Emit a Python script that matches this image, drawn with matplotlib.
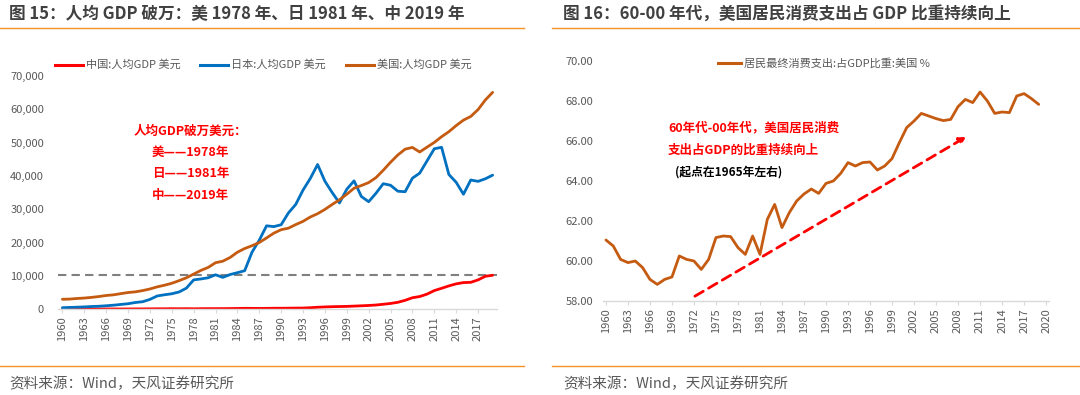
import matplotlib
matplotlib.use("Agg")
import matplotlib.pyplot as plt
from matplotlib.lines import Line2D
from matplotlib.ticker import FuncFormatter

plt.rcParams['font.family'] = ['Noto Sans CJK SC', 'DejaVu Sans']

# 图15 数据：人均GDP（美元）
years_gdp = list(range(1960, 2020))
china_gdp = [90, 76, 70, 74, 85, 98, 104, 97, 91, 100,
             113, 119, 132, 157, 160, 178, 165, 185, 156, 184,
             195, 197, 203, 225, 251, 294, 282, 252, 284, 311,
             318, 333, 366, 377, 473, 610, 709, 782, 829, 873,
             959, 1053, 1149, 1289, 1509, 1753, 2099, 2694, 3468, 3832,
             4550, 5614, 6301, 7020, 7636, 8016, 8094, 8817, 9905, 10217]
japan_gdp = [479, 563, 633, 717, 835, 919, 1058, 1229, 1451, 1669,
             2037, 2272, 2967, 3997, 4354, 4659, 5198, 6335, 8821, 9105,
             9463, 10361, 9578, 10425, 10984, 11585, 17112, 20745, 25051, 24813,
             25371, 28925, 31465, 35766, 39269, 43440, 38437, 35022, 31903, 36027,
             38532, 33846, 32289, 34808, 37688, 37218, 35434, 35275, 39339, 40855,
             44508, 48168, 48603, 40454, 38109, 34524, 38794, 38387, 39159, 40247]
us_gdp = [3007, 3067, 3244, 3375, 3574, 3828, 4146, 4336, 4696, 5032,
          5234, 5609, 6094, 6726, 7226, 7801, 8592, 9453, 10565, 11674,
          12575, 13976, 14434, 15544, 17121, 18237, 19071, 20039, 21417, 22857,
          23889, 24342, 25419, 26387, 27695, 28691, 29968, 31459, 32854, 34515,
          36335, 37133, 38023, 39497, 41712, 44115, 46299, 48050, 48570, 47195,
          48651, 50066, 51784, 53291, 55124, 56763, 57867, 59915, 62805, 65095]
threshold = 10300

# 图16 数据：居民最终消费支出占GDP比重（美国，%）
years_pce = list(range(1960, 2020))
pce_share = [61.05, 60.75, 60.08, 59.92, 60.0, 59.67, 59.08, 58.83, 59.08, 59.2,
             60.25, 60.08, 60.0, 59.58, 60.08, 61.17, 61.25, 61.22, 60.67, 60.33,
             61.25, 60.33, 62.08, 62.83, 61.67, 62.42, 63.0, 63.35, 63.6, 63.38,
             63.88, 64.0, 64.38, 64.92, 64.75, 64.92, 64.95, 64.55, 64.75, 65.12,
             65.92, 66.67, 67.0, 67.38, 67.25, 67.12, 67.02, 67.08, 67.72, 68.08,
             67.92, 68.45, 68.0, 67.38, 67.45, 67.42, 68.25, 68.37, 68.12, 67.83]

W, H = 1080, 395
fig = plt.figure(figsize=(W / 100, H / 100), dpi=100)

def fx(px):
    return px / W

def fy(py):
    return 1 - py / H

title_color = '#404040'
rule_color = '#F39323'
tick_color = '#595959'
axis_color = '#d9d9d9'

def style_axis(ax):
    for s in ['top', 'right', 'left']:
        ax.spines[s].set_visible(False)
    ax.spines['bottom'].set_color(axis_color)
    ax.spines['bottom'].set_linewidth(1)
    ax.tick_params(axis='x', direction='out', length=3, color=axis_color,
                   labelsize=8, labelcolor=tick_color, rotation=90, pad=2)
    ax.tick_params(axis='y', length=0, labelsize=8, labelcolor=tick_color)

line_kw = dict(lw=2, solid_joinstyle='round', solid_capstyle='round')

# ---------- 左图 ----------
ax1 = fig.add_axes([fx(58), fy(309.3), fx(497) - fx(58), fy(76) - fy(309.3)])
ax1.plot(years_gdp, china_gdp, color='#FF0000', **line_kw)
ax1.plot(years_gdp, japan_gdp, color='#0070C0', **line_kw)
ax1.plot(years_gdp, us_gdp, color='#C55A11', **line_kw)
ax1.axhline(threshold, color='#808080', lw=1.5, ls=(0, (4, 2.5)), zorder=0)
ax1.set_xlim(1959.4, 2019.6)
ax1.set_ylim(0, 70000)
ax1.set_xticks(range(1960, 2019, 3))
ax1.set_yticks(range(0, 70001, 10000))
ax1.yaxis.set_major_formatter(FuncFormatter(lambda v, p: f"{int(v):,}"))
style_axis(ax1)
ax1.tick_params(axis='y', pad=10)

red_bold = dict(color='#FF0000', fontsize=9, fontweight='bold', va='center')
ax1.text(fx(190), fy(131.7), "人均GDP破万美元：", ha='center', transform=fig.transFigure, **red_bold)
ax1.text(fx(152), fy(152.3), "美——1978年", ha='left', transform=fig.transFigure, **red_bold)
ax1.text(fx(152), fy(173.3), "日——1981年", ha='left', transform=fig.transFigure, **red_bold)
ax1.text(fx(152), fy(195), "中——2019年", ha='left', transform=fig.transFigure, **red_bold)

# 左图图例
legend_items = [("中国:人均GDP 美元", '#FF0000', 55),
                ("日本:人均GDP 美元", '#0070C0', 200),
                ("美国:人均GDP 美元", '#C55A11', 346)]
for label, color, x0 in legend_items:
    fig.add_artist(Line2D([fx(x0), fx(x0 + 28)], [fy(64.5), fy(64.5)], color=color, lw=2.2))
    fig.text(fx(x0 + 31), fy(64.5), label, fontsize=8, color=tick_color, va='center', ha='left')

# ---------- 右图 ----------
ax2 = fig.add_axes([fx(603), fy(301), fx(1049) - fx(603), fy(61) - fy(301)])
ax2.plot(years_pce, pce_share, color='#C55A11', **line_kw)
ax2.set_xlim(1959.6, 2020.4)
ax2.set_ylim(58, 70)
ax2.set_xticks(range(1960, 2021, 3))
ax2.set_yticks(range(58, 71, 2))
ax2.yaxis.set_major_formatter(FuncFormatter(lambda v, p: f"{v:.2f}"))
style_axis(ax2)
ax2.tick_params(axis='y', pad=7)

ax2.annotate("", xy=(2009.45, 66.28), xytext=(1971.8, 58.17),
             arrowprops=dict(arrowstyle='-|>', color='#FF0000', lw=2,
                             linestyle=(0, (3.5, 2.2)), mutation_scale=10))
fig.text(fx(668), fy(127.7), "60年代-00年代，美国居民消费", color='#FF0000',
         fontsize=9, fontweight='bold', va='center', ha='left')
fig.text(fx(668), fy(150), "支出占GDP的比重持续向上", color='#FF0000',
         fontsize=9, fontweight='bold', va='center', ha='left')
fig.text(fx(675), fy(172.3), "(起点在1965年左右)", color='black',
         fontsize=8.5, fontweight='bold', va='center', ha='left')

fig.add_artist(Line2D([fx(718), fx(741)], [fy(63), fy(63)], color='#C55A11', lw=2.2))
fig.text(fx(744), fy(63), "居民最终消费支出:占GDP比重:美国 %", fontsize=8,
         color=tick_color, va='center', ha='left')

# ---------- 标题、分隔线、来源 ----------
fig.text(fx(9), fy(14), "图 15：人均 GDP 破万：美 1978 年、日 1981 年、中 2019 年",
         fontsize=12, fontweight='bold', color=title_color, va='center', ha='left')
fig.text(fx(563), fy(14), "图 16：60-00 年代，美国居民消费支出占 GDP 比重持续向上",
         fontsize=12, fontweight='bold', color=title_color, va='center', ha='left')
for xa, xb in [(0, 524), (552, 1080)]:
    fig.add_artist(Line2D([fx(xa), fx(xb)], [fy(28), fy(28)], color=rule_color, lw=1))
    fig.add_artist(Line2D([fx(xa), fx(xb)], [fy(366), fy(366)], color=rule_color, lw=1))
fig.text(fx(9), fy(384), "资料来源：Wind，天风证券研究所", fontsize=10.5, color=tick_color,
         va='center', ha='left')
fig.text(fx(563), fy(384), "资料来源：Wind，天风证券研究所", fontsize=10.5, color=tick_color,
         va='center', ha='left')

fig.savefig("out.png", dpi=100)
